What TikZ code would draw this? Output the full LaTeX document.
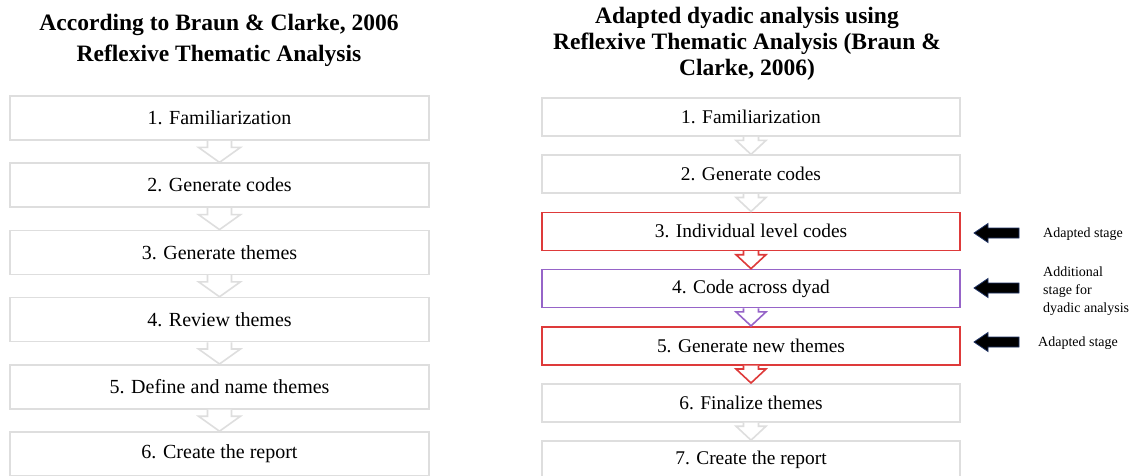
\documentclass[tikz,border=0pt]{standalone}
\usepackage{fontspec}
\setmainfont{Liberation Serif}
\usetikzlibrary{calc}
\definecolor{boxgray}{RGB}{222,222,222}
\definecolor{stagered}{RGB}{222,58,58}
\definecolor{stagepurple}{RGB}{150,100,200}
\definecolor{arrownavy}{RGB}{30,50,100}
\tikzset{
  lbox/.style={draw=boxgray, line width=1.6pt, fill=white, minimum width=419pt, minimum height=44pt, inner sep=0pt, font=\fontsize{20}{24}\selectfont},
  rbox/.style={draw=boxgray, line width=1.6pt, fill=white, minimum width=418pt, minimum height=38pt, inner sep=0pt, font=\fontsize{19.4}{23}\selectfont},
  redbox/.style={rbox, draw=stagered},
  purplebox/.style={rbox, draw=stagepurple},
  titletext/.style={align=center, font=\bfseries\fontsize{23.5}{30}\selectfont, inner sep=0pt},
  notetext/.style={align=left, anchor=west, font=\fontsize{14}{18}\selectfont, inner sep=0pt},
}
% block arrow from node #1 (south) to node #2 (north)
\newcommand{\blockarrow}[6]{%
  \draw[draw=#6, line width=1.6pt, fill=white, line join=miter]
    ($(#1.south)+(-#3,0)$) -- ($(#2.north)+(-#3,-#5)$) -- ($(#2.north)+(-#4,-#5)$)
    -- (#2.north) -- ($(#2.north)+(#4,-#5)$) -- ($(#2.north)+(#3,-#5)$) -- ($(#1.south)+(#3,0)$);}
% black pointing arrow, tip at coordinate #1
\newcommand{\pointarrow}[1]{%
  \draw[fill=black, draw=arrownavy, line width=0.8pt, line join=miter]
    (#1) -- ($(#1)+(14,-9.5)$) -- ($(#1)+(14,-5)$) -- ($(#1)+(45,-5)$)
    -- ($(#1)+(45,5)$) -- ($(#1)+(14,5)$) -- ($(#1)+(14,9.5)$) -- cycle;}
\begin{document}
\begin{tikzpicture}[x=1pt, y=-1pt]
\useasboundingbox (0,0) rectangle (1138,476);
\clip (0,0) rectangle (1138,476);
\fill[white] (0,0) rectangle (1138,476);

% titles
\node[titletext] (lt) at (219,40) {According to Braun \& Clarke, 2006\\[1pt]Reflexive Thematic Analysis};
\node[titletext, font=\bfseries\fontsize{23.5}{26}\selectfont] (rt) at (747,44) {Adapted dyadic analysis using\\Reflexive Thematic Analysis (Braun \&\\Clarke, 2006)};

% left column
\node[lbox] (l1) at (219.5,118) {1. Familiarization};
\node[lbox] (l2) at (219.5,185.2) {2. Generate codes};
\node[lbox] (l3) at (219.5,252.4) {3. Generate themes};
\node[lbox] (l4) at (219.5,319.6) {4. Review themes};
\node[lbox] (l5) at (219.5,386.8) {5. Define and name themes};
\node[lbox] (l6) at (219.5,454) {6. Create the report};

\blockarrow{l1}{l2}{12}{21}{15}{boxgray}
\blockarrow{l2}{l3}{12}{21}{15}{boxgray}
\blockarrow{l3}{l4}{12}{21}{15}{boxgray}
\blockarrow{l4}{l5}{12}{21}{15}{boxgray}
\blockarrow{l5}{l6}{12}{21}{15}{boxgray}

% right column
\node[rbox] (r1) at (751,117) {1. Familiarization};
\node[rbox] (r2) at (751,174.2) {2. Generate codes};
\node[redbox] (r3) at (751,231.3) {3. Individual level codes};
\node[purplebox] (r4) at (751,288.5) {4. Code across dyad};
\node[redbox] (r5) at (751,345.7) {5. Generate new themes};
\node[rbox] (r6) at (751,402.8) {6. Finalize themes};
\node[rbox] (r7) at (751,460) {7. Create the report};

\blockarrow{r1}{r2}{7.5}{15}{14}{boxgray}
\blockarrow{r2}{r3}{7.5}{15}{14}{boxgray}
\blockarrow{r3}{r4}{7.5}{15}{14}{stagered}
\blockarrow{r4}{r5}{7.5}{15}{14}{stagepurple}
\blockarrow{r5}{r6}{7.5}{15}{14}{stagered}
\blockarrow{r6}{r7}{7.5}{15}{14}{boxgray}

% annotations
\coordinate (p3) at (974,233);
\coordinate (p4) at (974,288);
\coordinate (p5) at (974,342);
\pointarrow{p3}
\pointarrow{p4}
\pointarrow{p5}
\node[notetext] (n3) at (1043,234) {Adapted stage};
\node[notetext] (n4) at (1043,291) {Additional\\stage for\\dyadic analysis};
\node[notetext] (n5) at (1038,343) {Adapted stage};
\end{tikzpicture}
\end{document}
